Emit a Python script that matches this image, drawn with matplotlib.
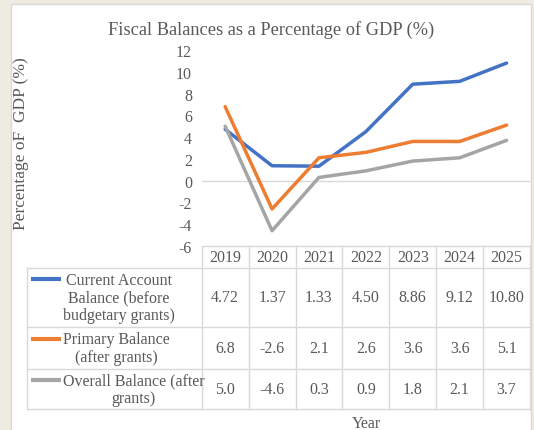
import matplotlib
matplotlib.use("Agg")
import matplotlib.pyplot as plt
from matplotlib.patches import Rectangle

years = ["2019", "2020", "2021", "2022", "2023", "2024", "2025"]
current_account = [4.72, 1.37, 1.33, 4.50, 8.86, 9.12, 10.80]
primary_balance = [6.8, -2.6, 2.1, 2.6, 3.6, 3.6, 5.1]
overall_balance = [5.0, -4.6, 0.3, 0.9, 1.8, 2.1, 3.7]

series_names = ["Current Account\nBalance (before\nbudgetary grants)",
                "Primary Balance\n(after grants)",
                "Overall Balance (after\ngrants)"]
series_values = [current_account, primary_balance, overall_balance]
series_fmt = ["{:.2f}", "{:.1f}", "{:.1f}"]
colors = ["#4472C4", "#ED7D31", "#A5A5A5"]

TXT = "#595959"
GRID = "#D9D9D9"
FS = 11.5
plt.rcParams["font.family"] = ["Liberation Serif", "DejaVu Serif"]
plt.rcParams["axes.unicode_minus"] = False

W, H = 534, 431
fig = plt.figure(figsize=(W / 100, H / 100), dpi=100)
fig.patch.set_facecolor("#EEECE1")

# white chart panel
fig.patches.append(Rectangle((11 / W, -0.05), 520 / W, 1.05 - 5 / H,
                             transform=fig.transFigure, facecolor="white",
                             edgecolor=GRID, lw=1, zorder=-10))

# plot area
plot_l, plot_r, plot_t, plot_b = 201.7, 530, 51, 247
ax = fig.add_axes([plot_l / W, 1 - plot_b / H, (plot_r - plot_l) / W, (plot_b - plot_t) / H])
ax.set_facecolor("none")
x = list(range(len(years)))
for vals, c in zip(series_values, colors):
    ax.plot(x, vals, color=c, lw=2.5, solid_capstyle="round", solid_joinstyle="round")
ax.axhline(0, color=GRID, lw=1, zorder=0)
ax.set_xlim(-0.5, len(years) - 0.5)
ax.set_ylim(-6, 12)
ax.set_yticks(range(-6, 13, 2))
ax.set_xticks([])
ax.tick_params(axis="y", length=0, pad=7, labelsize=FS, labelcolor=TXT)
for s in ax.spines.values():
    s.set_visible(False)

# data table below the plot
tab_l, tab_r = 27, 530
row_edges = [247, 269, 328, 370, 410]
unit = (plot_r - plot_l) / len(years)


def px2x(px):
    return -0.5 + (px - plot_l) / unit


axt = fig.add_axes([tab_l / W, 1 - row_edges[-1] / H, (tab_r - tab_l) / W,
                    (row_edges[-1] - row_edges[0]) / H])
axt.set_xlim(px2x(tab_l), px2x(tab_r))
axt.set_ylim(row_edges[-1], row_edges[0])
axt.axis("off")

lk = dict(color=GRID, lw=1, clip_on=False)
axt.plot([-0.5, len(years) - 0.5], [row_edges[0]] * 2, **lk)
for ye in row_edges[1:]:
    axt.plot([px2x(tab_l), len(years) - 0.5], [ye, ye], **lk)
axt.plot([px2x(tab_l)] * 2, [row_edges[1], row_edges[-1]], **lk)
for i in range(len(years) + 1):
    axt.plot([i - 0.5] * 2, [row_edges[0], row_edges[-1]], **lk)

hdr_y = (row_edges[0] + row_edges[1]) / 2
for i, yr in enumerate(years):
    axt.text(i, hdr_y, yr, ha="center", va="center", fontsize=FS, color=TXT)

line_h = 18.5
for r, (name, vals, fmt, c) in enumerate(zip(series_names, series_values, series_fmt, colors)):
    yc = (row_edges[r + 1] + row_edges[r + 2]) / 2
    for i, v in enumerate(vals):
        axt.text(i, yc, fmt.format(v), ha="center", va="center", fontsize=FS, color=TXT)
    n = name.count("\n") + 1
    y_first = yc - (n - 1) / 2 * line_h
    axt.plot([px2x(31), px2x(61)], [y_first, y_first], color=c, lw=3, solid_capstyle="butt")
    axt.text(px2x(63), yc, name, ha="left", va="center", ma="center",
             fontsize=FS, color=TXT, linespacing=1.15)

fig.text(271 / W, 1 - 30 / H, "Fiscal Balances as a Percentage of GDP (%)",
         ha="center", va="center", fontsize=13.2, color=TXT)
fig.text(21 / W, 1 - 144 / H, "Percentage oF  GDP (%)", rotation=90,
         ha="center", va="center", fontsize=12.5, color=TXT)
fig.text(366 / W, 1 - 424 / H, "Year", ha="center", va="center", fontsize=FS, color=TXT)

fig.savefig("out.png", dpi=100)
